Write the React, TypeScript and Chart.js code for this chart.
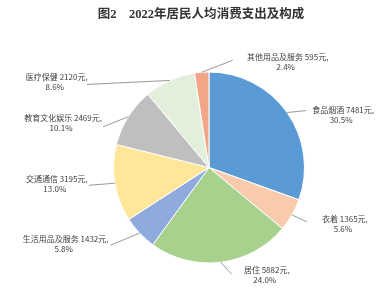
import React, { useEffect, useRef } from "react";
import { Chart, registerables } from "chart.js";

Chart.register(...registerables);

const categories = ["食品烟酒", "衣着", "居住", "生活用品及服务", "交通通信", "教育文化娱乐", "医疗保健", "其他用品及服务"];
const amounts = [7481, 1365, 5882, 1432, 3195, 2469, 2120, 595];
const shares = ["30.5%", "5.6%", "24.0%", "5.8%", "13.0%", "10.1%", "8.6%", "2.4%"];
const colors = ["#5B9BD5", "#F8CBAD", "#A9D18E", "#8FAADC", "#FFE699", "#BFBFBF", "#E2EFDA", "#F2A688"];
const titleText = "图2　2022年居民人均消费支出及构成";

// label placement relative to each slice's outer mid-point: [leaderEndDx, leaderEndDy, textDx, textDy]
const labelOffsets = [
  [19, -2, 56, -3],
  [15, 7, 53, 4],
  [11, 12, 46, 8],
  [-29, 12, -74, 6],
  [-26, 2, -58, -4],
  [-25, 10, -65, 1],
  [-83, 4, -113, -3],
  [31, -12, 86, -15],
];

const labelPlugin = {
  id: "sliceLabels",
  afterDraw(chart: any) {
    const ctx = chart.ctx;
    const meta = chart.getDatasetMeta(0);
    ctx.save();
    // title
    ctx.fillStyle = "#333333";
    ctx.font = "bold 12.5px 'Liberation Serif', 'Noto Sans CJK SC', serif";
    ctx.textAlign = "center";
    ctx.textBaseline = "middle";
    ctx.fillText(titleText, 201, 15);

    meta.data.forEach((arc: any, i: number) => {
      const mid = (arc.startAngle + arc.endAngle) / 2;
      const ex = arc.x + Math.cos(mid) * arc.outerRadius;
      const ey = arc.y + Math.sin(mid) * arc.outerRadius;
      const [lx, ly, tx, ty] = labelOffsets[i];
      ctx.strokeStyle = "#7f7f7f";
      ctx.lineWidth = 0.8;
      ctx.beginPath();
      ctx.moveTo(ex, ey);
      ctx.lineTo(ex + lx, ey + ly);
      ctx.stroke();
      ctx.fillStyle = "#404040";
      ctx.font = "8px 'Noto Sans CJK SC', sans-serif";
      ctx.textAlign = "center";
      ctx.textBaseline = "middle";
      ctx.fillText(`${categories[i]} ${amounts[i]}元,`, ex + tx, ey + ty);
      ctx.fillText(shares[i], ex + tx - 2, ey + ty + 10);
    });
    ctx.restore();
  },
};

export default function App() {
  const ref = useRef<HTMLCanvasElement>(null);
  useEffect(() => {
    if (!ref.current) return;
    const chart = new Chart(ref.current, {
      type: "pie",
      data: {
        labels: categories,
        datasets: [
          {
            data: amounts,
            backgroundColor: colors,
            borderColor: "#ffffff",
            borderWidth: 1,
            hoverOffset: 0,
            offset: 0,
          },
        ],
      },
      options: {
        responsive: false,
        animation: false,
        layout: { padding: { left: 113, right: 85, top: 71.5, bottom: 36.5 } },
        plugins: {
          legend: { display: false },
          title: { display: false },
          tooltip: { enabled: false },
        },
      },
      plugins: [labelPlugin],
    });
    return () => chart.destroy();
  }, []);
  return (
    <div style={{ position: "fixed", left: 0, top: 0, width: 390, height: 300, background: "#ffffff" }}>
      <canvas ref={ref} width={390} height={300} />
    </div>
  );
}
